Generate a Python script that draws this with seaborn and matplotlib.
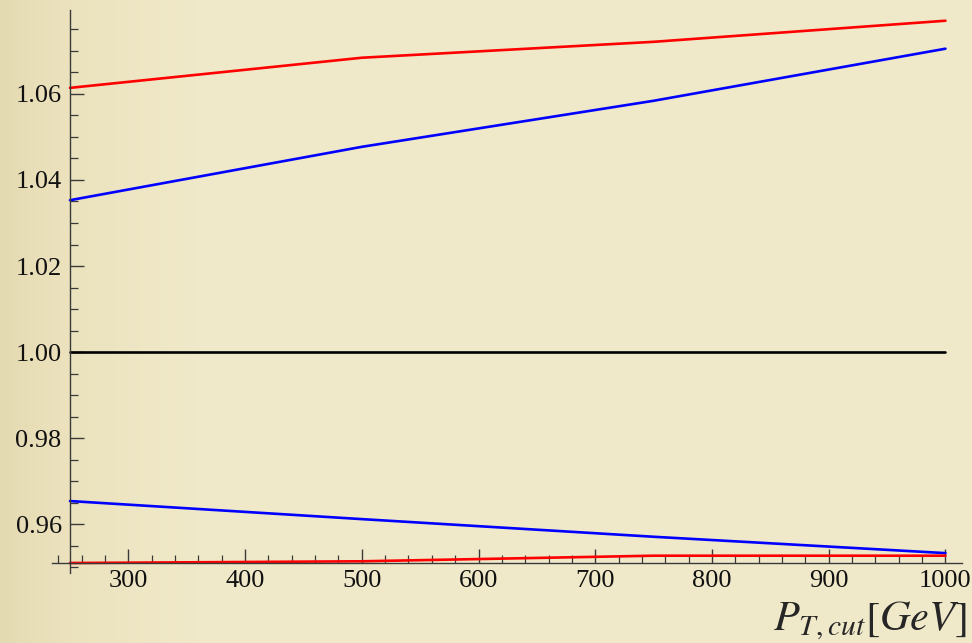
import numpy as np
import pandas as pd
import matplotlib.pyplot as plt
import seaborn as sns
from matplotlib.ticker import MultipleLocator
from matplotlib.colors import LinearSegmentedColormap

# ==========================================
# Dados
# ==========================================
pt_cut = [250, 500, 750, 1000]

red_upper = [1.0614, 1.0684, 1.0721, 1.0770]
blue_upper = [1.0353, 1.0477, 1.0584, 1.0705]
reference = [1.0, 1.0, 1.0, 1.0]
blue_lower = [0.9654, 0.9612, 0.9571, 0.9533]
red_lower = [0.9510, 0.9514, 0.9527, 0.9527]

curvas = {
    'red_upper': red_upper,
    'blue_upper': blue_upper,
    'reference': reference,
    'blue_lower': blue_lower,
    'red_lower': red_lower,
}
cores = {
    'red_upper': '#ff0000',
    'blue_upper': '#0000ff',
    'reference': '#000000',
    'blue_lower': '#0000ff',
    'red_lower': '#ff0000',
}

df = pd.concat(
    [pd.DataFrame({'pt': pt_cut, 'ratio': v, 'curva': k}) for k, v in curvas.items()],
    ignore_index=True,
)

# ==========================================
# Figura
# ==========================================
sns.set_theme(style="white")
plt.rcParams['font.family'] = ['Liberation Serif', 'DejaVu Serif']
plt.rcParams['mathtext.fontset'] = 'stix'

bg = '#f0e9c9'
fig = plt.figure(figsize=(9.72, 6.43), dpi=100, facecolor=bg)

# fundo tipo pergaminho: leve escurecimento na borda esquerda
bg_ax = fig.add_axes([0, 0, 1, 1], zorder=-1)
grad = np.linspace(0, 1, 256)[None, :]
pergaminho = LinearSegmentedColormap.from_list(
    'perg', [(0.0, '#e4dab2'), (0.06, '#ebe2bd'), (0.2, '#f0e9c9'), (1.0, '#f1eaca')])
bg_ax.imshow(grad, aspect='auto', cmap=pergaminho, extent=[0, 1, 0, 1])
bg_ax.axis('off')

ax = fig.add_axes([0.0535, 0.109, 0.936, 0.8755])
ax.set_facecolor('none')

sns.lineplot(data=df, x='pt', y='ratio', hue='curva', palette=cores,
             estimator=None, sort=False, linewidth=1.9, legend=False, ax=ax)

ax.set_xlim(234.6, 1014)
ax.set_ylim(0.9487, 1.0795)

# eixos cruzando no estilo Mathematica
ax.spines['left'].set_position(('data', 250))
ax.spines['bottom'].set_position(('data', 0.951))
for s in ['top', 'right']:
    ax.spines[s].set_visible(False)
for s in ['left', 'bottom']:
    ax.spines[s].set_color('#3a3a3a')
    ax.spines[s].set_linewidth(1.0)

ax.xaxis.set_major_locator(MultipleLocator(100))
ax.xaxis.set_minor_locator(MultipleLocator(20))
ax.yaxis.set_major_locator(MultipleLocator(0.02))
ax.yaxis.set_minor_locator(MultipleLocator(0.005))

ax.set_xticks([300, 400, 500, 600, 700, 800, 900, 1000])
ax.set_yticks([0.96, 0.98, 1.00, 1.02, 1.04, 1.06])
ax.yaxis.set_major_formatter(plt.FuncFormatter(lambda v, p: f"{v:.2f}"))

ax.tick_params(axis='both', which='both', direction='in', color='#3a3a3a',
               bottom=True, left=True, top=False, right=False)
ax.tick_params(axis='both', which='major', length=10, width=1.0,
               labelsize=19, labelcolor='#111111')
ax.tick_params(axis='both', which='minor', length=6, width=0.9)
ax.tick_params(axis='y', which='major', pad=6)
ax.tick_params(axis='x', which='major', pad=5)

ax.set_xlabel('')
ax.set_ylabel('')

fig.text(0.995, 0.002, r'$P_{T,cut}[GeV]$', ha='right', va='bottom', fontsize=30.5)

fig.savefig('out.png', dpi=100, facecolor=bg)
